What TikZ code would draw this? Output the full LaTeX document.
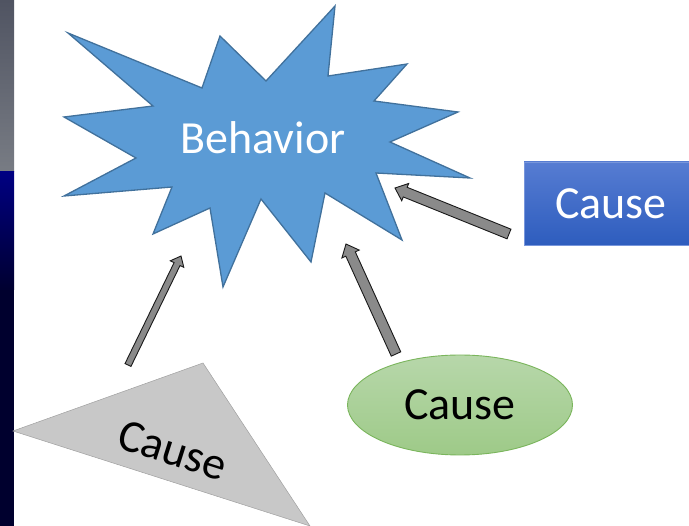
\documentclass[tikz,border=0pt]{standalone}
\usepackage{fontspec}
\setmainfont{Carlito}
\usetikzlibrary{calc,shapes.geometric}

\definecolor{starblue}{RGB}{91,155,213}
\definecolor{starline}{RGB}{65,113,156}
\definecolor{boxtop}{RGB}{86,124,210}
\definecolor{boxbot}{RGB}{46,93,190}
\definecolor{ovaltop}{RGB}{183,215,170}
\definecolor{ovalbot}{RGB}{158,202,136}
\definecolor{ovalline}{RGB}{122,181,92}
\definecolor{trigray}{RGB}{200,200,200}
\definecolor{arrowgray}{RGB}{138,138,138}
\definecolor{stormtop}{RGB}{80,84,98}
\definecolor{stormbot}{RGB}{120,124,132}
\definecolor{seatop}{RGB}{0,0,130}
\definecolor{seabot}{RGB}{0,0,48}
\definecolor{seadeep}{RGB}{0,0,46}

% block arrow: tail, tip, shaft half width, head half width, head length
\newcommand{\blockarrow}[5]{%
  \draw[causearrow] let \p1=($(#2)-(#1)$), \n1={atan2(\y1,\x1)}, \n2={veclen(\x1,\y1)} in
    [shift={(#1)}, rotate=\n1]
    (0,-#3) -- (\n2-#5,-#3) -- (\n2-#5,-#4) -- (\n2,0) -- (\n2-#5,#4) -- (\n2-#5,#3) -- (0,#3) -- cycle;
}

\begin{document}
\begin{tikzpicture}[x=1pt,y=-1pt]
\tikzstyle{every node}=[font=\fontsize{46}{50}\selectfont]
\tikzstyle{causearrow}=[draw=black!90, fill=arrowgray, line width=0.9pt, line join=miter]
\useasboundingbox (0,0) rectangle (689,526);
\clip (0,0) rectangle (689,526);

% left strip
\shade[top color=stormtop, bottom color=stormbot] (0,0) rectangle (14,172);
\shade[top color=seatop, bottom color=seabot] (0,172) rectangle (14,290);
\fill[seadeep] (0,290) rectangle (14,526);

% star
\draw[fill=starblue, draw=starline, line width=1.3pt, line join=miter]
  (68,33) -- (202,88) -- (220,36) -- (266,81) -- (335,6) -- (328,76) -- (407,64) -- (374,101)
  -- (458,112) -- (390,142) -- (470,178) -- (376,173) -- (402,240) -- (325,193) -- (311,262)
  -- (261,199) -- (223,287) -- (210,208) -- (153,234) -- (172,187) -- (64,196) -- (136,158)
  -- (64,117) -- (153,106) -- cycle;
\node[anchor=base, text=white] (behavior) at (263,154) {Behavior};

% causes
\node[draw=boxtop!80!white, line width=0.6pt, top color=boxtop, bottom color=boxbot,
  minimum width=174, minimum height=83, text=white] (causebox) at (611,203.5) {Cause};
\node[ellipse, draw=ovalline, line width=0.9pt, top color=ovaltop, bottom color=ovalbot,
  minimum width=225, minimum height=100] (causeoval) at (460,405) {Cause};

\coordinate (triL) at (13,431);
\coordinate (triT) at (203,363);
\coordinate (triB) at (310,526);
\fill[trigray] (triL) -- (triT) -- (triB) -- cycle;
\draw[trigray!80!black, line width=0.5pt] (triL) -- (triT) -- (triB) -- cycle;
\node[rotate=-17.6] (causetri) at (173,450) {Cause};

% arrows
\coordinate (a1) at (128,365);
\coordinate (b1) at (181,256);
\coordinate (a2) at (396,354);
\coordinate (b2) at (346,244);
\coordinate (a3) at (509,234);
\coordinate (b3) at (395,188);
\blockarrow{a1}{b1}{3.3}{7.5}{9}
\blockarrow{a2}{b2}{5.2}{9.5}{11}
\blockarrow{a3}{b3}{5.2}{9.3}{11}

\end{tikzpicture}
\end{document}
